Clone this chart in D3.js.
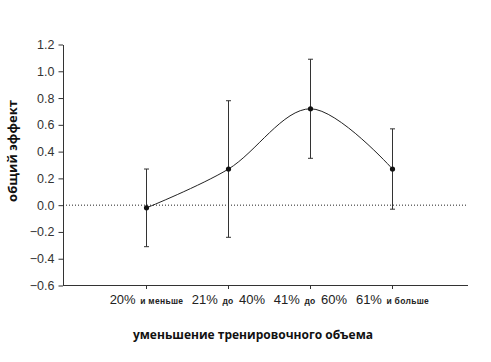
<!DOCTYPE html>
<html>
<head>
<meta charset="utf-8">
<script src="https://cdn.jsdelivr.net/npm/d3@7"></script>
<style>
  body { margin: 0; background: #fff; }
  svg { display: block; }
</style>
</head>
<body>
<div id="container"></div>
<script>
const w = 491, h = 362;

// data
const groups = [
    ["20%", "и меньше", ""],
    ["21%", "до", "40%"],
    ["41%", "до", "60%"],
    ["61%", "и больше", ""]
];
const effect = [-0.02, 0.27, 0.72, 0.27];
const errHigh = [0.27, 0.78, 1.09, 0.57];
const errLow = [-0.31, -0.24, 0.35, -0.03];
const yTicks = [1.2, 1.0, 0.8, 0.6, 0.4, 0.2, 0.0, -0.2, -0.4, -0.6];

const margin = {left: 63, right: 468, top: 44.5, bottom: 285.5};

const x = d3.scaleLinear()
    .domain([0, 3])
    .range([146.5, 392.5]);

const y = d3.scaleLinear()
    .domain([-0.6, 1.2])
    .range([margin.bottom, margin.top]);

const svg = d3.select("#container")
    .append("svg")
    .attr("width", w)
    .attr("height", h);

// y axis
const yAxis = d3.axisLeft(y)
    .tickValues(yTicks)
    .tickSize(4.5)
    .tickSizeOuter(0)
    .tickFormat((d) => d3.format(".1f")(d).replace("-", "\u2212"));

const ya = svg.append("g")
    .attr("transform", "translate(" + margin.left + ",0)")
    .call(yAxis);
ya.select(".domain").attr("stroke", "#333");
ya.selectAll(".tick line").attr("stroke", "#333");
ya.selectAll(".tick text")
    .attr("x", -8.5)
    .attr("fill", "#333")
    .style("font-family", "'Liberation Sans', Arial, sans-serif")
    .style("font-size", "12.5px");

// x axis
const xa = svg.append("g")
    .attr("transform", "translate(0," + margin.bottom + ")");
xa.append("line")
    .attr("x1", margin.left)
    .attr("x2", margin.right)
    .attr("stroke", "#333");
xa.selectAll("line.tk")
    .data(groups)
    .enter()
    .append("line")
    .attr("class", "tk")
    .attr("x1", (d, i) => x(i))
    .attr("x2", (d, i) => x(i))
    .attr("y1", 0)
    .attr("y2", 3.5)
    .attr("stroke", "#333");

const labels = xa.selectAll("text")
    .data(groups)
    .enter()
    .append("text")
    .attr("x", (d, i) => x(i))
    .attr("y", 18)
    .attr("text-anchor", "middle")
    .attr("fill", "#222")
    .style("font-family", "'Liberation Sans', Arial, sans-serif");
labels.append("tspan").style("font-size", "13px").text((d) => d[0]);
labels.append("tspan").attr("dx", 4.5)
    .style("font-size", "8.5px").style("font-weight", "bold")
    .style("letter-spacing", "0.3px")
    .text((d) => d[1]);
labels.filter((d) => d[2] !== "")
    .append("tspan").attr("dx", 5.5)
    .style("font-size", "13px").text((d) => d[2]);

// zero line
svg.append("line")
    .attr("x1", margin.left)
    .attr("x2", margin.right)
    .attr("y1", y(0))
    .attr("y2", y(0))
    .attr("stroke", "#222")
    .attr("stroke-width", 1)
    .attr("stroke-dasharray", "1,2");

// error bars
const bars = svg.append("g").attr("stroke", "#333");
bars.selectAll("line.err")
    .data(effect)
    .enter()
    .append("line")
    .attr("class", "err")
    .attr("x1", (d, i) => x(i))
    .attr("x2", (d, i) => x(i))
    .attr("y1", (d, i) => y(errHigh[i]))
    .attr("y2", (d, i) => y(errLow[i]));
bars.selectAll("line.capHi")
    .data(effect)
    .enter()
    .append("line")
    .attr("class", "capHi")
    .attr("x1", (d, i) => x(i) - 2.5)
    .attr("x2", (d, i) => x(i) + 2.5)
    .attr("y1", (d, i) => y(errHigh[i]))
    .attr("y2", (d, i) => y(errHigh[i]));
bars.selectAll("line.capLo")
    .data(effect)
    .enter()
    .append("line")
    .attr("class", "capLo")
    .attr("x1", (d, i) => x(i) - 2.5)
    .attr("x2", (d, i) => x(i) + 2.5)
    .attr("y1", (d, i) => y(errLow[i]))
    .attr("y2", (d, i) => y(errLow[i]));

// smoothed line
const line = d3.line()
    .x((d, i) => x(i))
    .y((d) => y(d))
    .curve(d3.curveCatmullRom.alpha(0));

svg.append("path")
    .datum(effect)
    .attr("d", line)
    .attr("fill", "none")
    .attr("stroke", "#222")
    .attr("stroke-width", 1);

svg.selectAll("circle")
    .data(effect)
    .enter()
    .append("circle")
    .attr("cx", (d, i) => x(i))
    .attr("cy", (d) => y(d))
    .attr("r", 2.6)
    .attr("fill", "#111");

// axis titles
svg.append("text")
    .attr("transform", "translate(17,151) rotate(-90)")
    .attr("text-anchor", "middle")
    .attr("fill", "#111")
    .style("font-family", "'Open Sans', sans-serif")
    .style("font-weight", "bold")
    .style("font-size", "13px")
    .text("общий эффект");

svg.append("text")
    .attr("x", 253)
    .attr("y", 339)
    .attr("text-anchor", "middle")
    .attr("fill", "#111")
    .style("font-family", "'Open Sans', sans-serif")
    .style("font-weight", "bold")
    .style("font-size", "12px")
    .text("уменьшение тренировочного объема");
</script>
</body>
</html>
